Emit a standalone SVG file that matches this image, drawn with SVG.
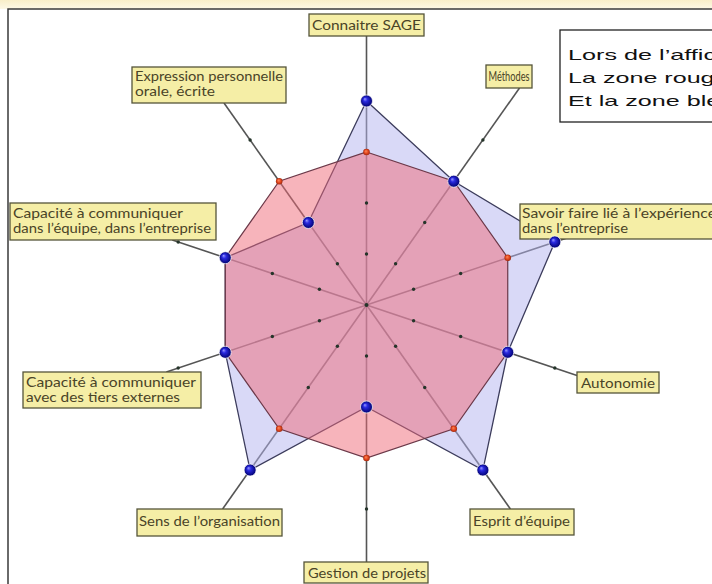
<svg xmlns="http://www.w3.org/2000/svg" width="712" height="584" viewBox="0 0 712 584">
<defs>
<linearGradient id="topband" x1="0" y1="0" x2="0" y2="1">
<stop offset="0" stop-color="#f8eec8"/><stop offset="1" stop-color="#fdf8e6"/>
</linearGradient>
<radialGradient id="bball" cx="0.5" cy="0.5" r="0.5" fx="0.35" fy="0.32">
<stop offset="0" stop-color="#9a9aff"/><stop offset="0.35" stop-color="#2a2ae0"/><stop offset="1" stop-color="#00006e"/>
</radialGradient>
<radialGradient id="rball" cx="0.5" cy="0.5" r="0.5" fx="0.4" fy="0.35">
<stop offset="0" stop-color="#ff8a5a"/><stop offset="0.6" stop-color="#e0441c"/><stop offset="1" stop-color="#a02a10"/>
</radialGradient>
<style>
.axis{stroke:#555;stroke-width:1.6;fill:none}
.bpoly{fill:#b4b4f0;fill-opacity:.5;stroke:#3c3c5c;stroke-width:1.3}
.rpoly{fill:#f06a78;fill-opacity:.5;stroke:#6b3848;stroke-width:1.2}
.tick{fill:#25352a}
.bm{fill:url(#bball);stroke:#ffffff;stroke-opacity:.7;stroke-width:1}
.rm{fill:url(#rball)}
.lbox{fill:#f5eea6;stroke:#55553a;stroke-width:1.3}
.lt{font-family:Lato,"Open Sans","Noto Sans",sans-serif;font-size:12.5px;fill:#4a4428}
.bt{font-family:"Liberation Sans",Arial,sans-serif;font-size:15px;fill:#111}
</style>
</defs>
<rect x="0" y="0" width="712" height="584" fill="#ffffff"/>
<rect x="0" y="0" width="712" height="9" fill="url(#topband)"/>
<path d="M8,584 V9 H712" fill="none" stroke="#3a3a3a" stroke-width="1.5"/>

<g id="connectors">
<line class="axis" x1="366.5" y1="305" x2="366.5" y2="36"/>
<line class="axis" x1="366.5" y1="305" x2="519.5" y2="88"/>
<line class="axis" x1="366.5" y1="305" x2="573.7" y2="235.7"/>
<line class="axis" x1="366.5" y1="305" x2="577" y2="375.5"/>
<line class="axis" x1="366.5" y1="305" x2="510.4" y2="509"/>
<line class="axis" x1="366.5" y1="305" x2="366.5" y2="562"/>
<line class="axis" x1="366.5" y1="305" x2="222.6" y2="509"/>
<line class="axis" x1="366.5" y1="305" x2="166.4" y2="372"/>
<line class="axis" x1="366.5" y1="305" x2="172.3" y2="240"/>
<line class="axis" x1="366.5" y1="305" x2="224" y2="103"/>
</g>

<g id="zone-bleue">
<polygon class="bpoly" points="366.5,101 453.8,181.22 554.82,241.96 507.74,352.28 482.9,470.04 366.5,407 250.1,470.04 225.26,352.28 225.26,257.72 308.3,222.48"/>
</g>
<g id="zone-rouge">
<polygon class="rpoly" points="366.5,152 453.8,181.22 507.74,257.72 507.74,352.28 453.8,428.78 366.5,458 279.2,428.78 225.26,352.28 225.26,257.72 279.2,181.22"/>
</g>

<g id="ticks">
<circle class="tick" cx="366.5" cy="305" r="2"/>
<circle class="tick" cx="366.5" cy="254" r="1.7"/><circle class="tick" cx="395.6" cy="263.74" r="1.7"/><circle class="tick" cx="413.58" cy="289.24" r="1.7"/><circle class="tick" cx="413.58" cy="320.76" r="1.7"/><circle class="tick" cx="395.6" cy="346.26" r="1.7"/><circle class="tick" cx="366.5" cy="356" r="1.7"/><circle class="tick" cx="337.4" cy="346.26" r="1.7"/><circle class="tick" cx="319.42" cy="320.76" r="1.7"/><circle class="tick" cx="319.42" cy="289.24" r="1.7"/><circle class="tick" cx="337.4" cy="263.74" r="1.7"/>
<circle class="tick" cx="366.5" cy="203" r="1.7"/><circle class="tick" cx="424.7" cy="222.48" r="1.7"/><circle class="tick" cx="460.66" cy="273.48" r="1.7"/><circle class="tick" cx="460.66" cy="336.52" r="1.7"/><circle class="tick" cx="424.7" cy="387.52" r="1.7"/><circle class="tick" cx="366.5" cy="407" r="1.7"/><circle class="tick" cx="308.3" cy="387.52" r="1.7"/><circle class="tick" cx="272.34" cy="336.52" r="1.7"/><circle class="tick" cx="272.34" cy="273.48" r="1.7"/><circle class="tick" cx="308.3" cy="222.48" r="1.7"/>
<circle class="tick" cx="366.5" cy="101" r="1.7"/><circle class="tick" cx="482.9" cy="139.96" r="1.7"/><circle class="tick" cx="554.82" cy="241.96" r="1.7"/><circle class="tick" cx="554.82" cy="368.04" r="1.7"/><circle class="tick" cx="482.9" cy="470.04" r="1.7"/><circle class="tick" cx="366.5" cy="509" r="1.7"/><circle class="tick" cx="250.1" cy="470.04" r="1.7"/><circle class="tick" cx="178.18" cy="368.04" r="1.7"/><circle class="tick" cx="178.18" cy="241.96" r="1.7"/><circle class="tick" cx="250.1" cy="139.96" r="1.7"/>
</g>

<g id="label-connaitre-sage"><rect class="lbox" x="309" y="14" width="115" height="22"/><text class="lt" x="312" y="30" textLength="109" lengthAdjust="spacingAndGlyphs">Connaitre SAGE</text></g>
<g id="label-methodes"><rect class="lbox" x="486" y="65" width="46" height="23"/><text class="lt" x="488.5" y="81" textLength="41" lengthAdjust="spacingAndGlyphs">Méthodes</text></g>
<g id="label-expression"><rect class="lbox" x="132" y="67" width="154" height="36"/><text class="lt" x="135" y="81" textLength="148" lengthAdjust="spacingAndGlyphs">Expression personnelle</text><text class="lt" x="135" y="96" textLength="80" lengthAdjust="spacingAndGlyphs">orale, écrite</text></g>
<g id="label-savoir-faire"><rect class="lbox" x="520" y="204" width="200" height="35"/><text class="lt" x="522" y="218" textLength="194" lengthAdjust="spacingAndGlyphs">Savoir faire lié à l’expérience</text><text class="lt" x="522" y="233" textLength="106" lengthAdjust="spacingAndGlyphs">dans l’entreprise</text></g>
<g id="label-communiquer-equipe"><rect class="lbox" x="10" y="203" width="206" height="37"/><text class="lt" x="13" y="218" textLength="170" lengthAdjust="spacingAndGlyphs">Capacité à communiquer</text><text class="lt" x="13" y="233" textLength="198" lengthAdjust="spacingAndGlyphs">dans l’équipe, dans l’entreprise</text></g>
<g id="label-autonomie"><rect class="lbox" x="577" y="372" width="82" height="21"/><text class="lt" x="581" y="388" textLength="74" lengthAdjust="spacingAndGlyphs">Autonomie</text></g>
<g id="label-communiquer-tiers"><rect class="lbox" x="23" y="372" width="178" height="36"/><text class="lt" x="26" y="387" textLength="170" lengthAdjust="spacingAndGlyphs">Capacité à communiquer</text><text class="lt" x="26" y="402" textLength="154" lengthAdjust="spacingAndGlyphs">avec des tiers externes</text></g>
<g id="label-esprit-equipe"><rect class="lbox" x="470" y="509" width="104" height="26"/><text class="lt" x="473" y="526" textLength="97" lengthAdjust="spacingAndGlyphs">Esprit d’équipe</text></g>
<g id="label-sens-organisation"><rect class="lbox" x="137" y="509" width="145" height="27"/><text class="lt" x="139" y="526" textLength="141" lengthAdjust="spacingAndGlyphs">Sens de l’organisation</text></g>
<g id="label-gestion-projets"><rect class="lbox" x="304" y="562" width="124" height="21"/><text class="lt" x="308" y="578" textLength="118" lengthAdjust="spacingAndGlyphs">Gestion de projets</text></g>

<g id="points-rouges">
<circle class="rm" cx="366.5" cy="152" r="3.3"/><circle class="rm" cx="507.74" cy="257.72" r="3.3"/><circle class="rm" cx="453.8" cy="428.78" r="3.3"/><circle class="rm" cx="366.5" cy="458" r="3.3"/><circle class="rm" cx="279.2" cy="428.78" r="3.3"/><circle class="rm" cx="279.2" cy="181.22" r="3.3"/>
</g>
<g id="points-bleus">
<circle class="bm" cx="366.5" cy="101" r="6"/><circle class="bm" cx="453.8" cy="181.22" r="6"/><circle class="bm" cx="554.82" cy="241.96" r="6"/><circle class="bm" cx="507.74" cy="352.28" r="6"/><circle class="bm" cx="482.9" cy="470.04" r="6"/><circle class="bm" cx="366.5" cy="407" r="6"/><circle class="bm" cx="250.1" cy="470.04" r="6"/><circle class="bm" cx="225.26" cy="352.28" r="6"/><circle class="bm" cx="225.26" cy="257.72" r="6"/><circle class="bm" cx="308.3" cy="222.48" r="6"/>
</g>

<g id="legende">
<rect x="560" y="30" width="170" height="92" fill="#ffffff" stroke="#222" stroke-width="1.3"/>
<text class="bt" x="568" y="60" textLength="148" lengthAdjust="spacingAndGlyphs">Lors de l’affic</text>
<text class="bt" x="568" y="83" textLength="146.6" lengthAdjust="spacingAndGlyphs">La zone roug</text>
<text class="bt" x="568" y="106" textLength="152.2" lengthAdjust="spacingAndGlyphs">Et la zone ble</text>
</g>
</svg>
